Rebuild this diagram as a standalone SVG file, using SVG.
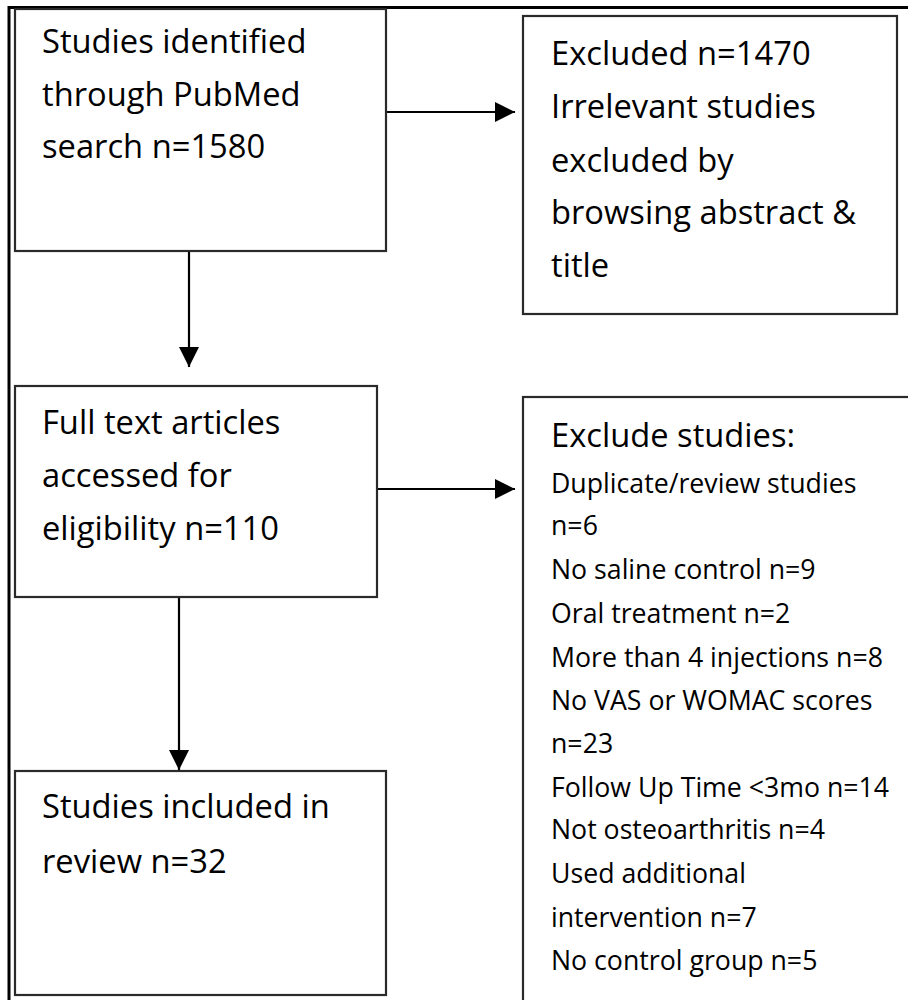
<svg xmlns="http://www.w3.org/2000/svg" width="908" height="1000" viewBox="0 0 908 1000">
<defs>
<marker id="ah" markerWidth="20" markerHeight="20" refX="20" refY="10" orient="auto" markerUnits="userSpaceOnUse">
<path d="M0,0 L20,10 L0,20 Z" fill="#000"/>
</marker>
<style>
.box{fill:#fff;stroke:#2a2a2a;stroke-width:2.2}
.t{font-family:"Open Sans","Noto Sans",sans-serif;font-size:32.7px;fill:#000}
.s{font-family:"Open Sans","Noto Sans",sans-serif;font-size:26.7px;fill:#000}
.c{fill:none;stroke:#000;stroke-width:2.2}
</style>
</defs>
<rect width="908" height="1000" fill="#fff"/>
<g id="frame">
<path d="M9,1000 L9,7.5 L908,7.5" fill="none" stroke="#000" stroke-width="3"/>
</g>
<g id="connectors">
<line class="c" x1="386" y1="112" x2="515" y2="112" marker-end="url(#ah)"/>
<line class="c" x1="189" y1="251" x2="189" y2="367" marker-end="url(#ah)"/>
<line class="c" x1="377" y1="489" x2="515" y2="489" marker-end="url(#ah)"/>
<line class="c" x1="179" y1="597" x2="179" y2="770" marker-end="url(#ah)"/>
</g>
<g id="n1">
<rect class="box" x="15" y="9" width="371" height="242"/>
<text class="t" x="42" y="53">Studies identified</text>
<text class="t" x="42" y="106">through PubMed</text>
<text class="t" x="42" y="158">search n=1580</text>
</g>
<g id="n2">
<rect class="box" x="523" y="16" width="374" height="298"/>
<text class="t" x="551" y="65">Excluded n=1470</text>
<text class="t" x="551" y="118">Irrelevant studies</text>
<text class="t" x="551" y="172">excluded by</text>
<text class="t" x="551" y="224">browsing abstract &amp;</text>
<text class="t" x="551" y="277">title</text>
</g>
<g id="n3">
<rect class="box" x="15" y="386" width="362" height="211"/>
<text class="t" x="42" y="434">Full text articles</text>
<text class="t" x="42" y="487">accessed for</text>
<text class="t" x="42" y="540">eligibility n=110</text>
</g>
<g id="n4">
<rect class="box" x="15" y="771" width="371" height="224"/>
<text class="t" x="42" y="818">Studies included in</text>
<text class="t" x="42" y="873">review n=32</text>
</g>
<g id="n5">
<rect class="box" x="523" y="397" width="400" height="620"/>
<text class="t" x="551" y="447">Exclude studies:</text>
<text class="s" x="551" y="493">Duplicate/review studies</text>
<text class="s" x="551" y="535">n=6</text>
<text class="s" x="551" y="579">No saline control n=9</text>
<text class="s" x="551" y="623">Oral treatment n=2</text>
<text class="s" x="551" y="667">More than 4 injections n=8</text>
<text class="s" x="551" y="710">No VAS or WOMAC scores</text>
<text class="s" x="551" y="753">n=23</text>
<text class="s" x="551" y="797">Follow Up Time &lt;3mo n=14</text>
<text class="s" x="551" y="839">Not osteoarthritis n=4</text>
<text class="s" x="551" y="883">Used additional</text>
<text class="s" x="551" y="927">intervention n=7</text>
<text class="s" x="551" y="970">No control group n=5</text>
</g>
</svg>
